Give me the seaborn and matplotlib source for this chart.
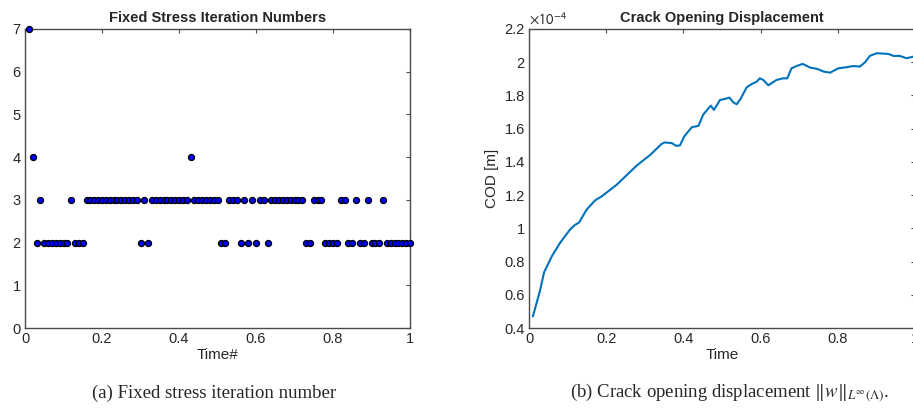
import matplotlib
matplotlib.use("Agg")
import matplotlib.pyplot as plt
import matplotlib.ticker as mticker
import numpy as np
import seaborn as sns

# time steps (0.01 .. 1.00)
time_steps = np.arange(1, 101) / 100.0
# fixed stress iterations per time step
iterations = [7, 4, 2, 3, 2, 2, 2, 2, 2, 2, 2, 3, 2, 2, 2,
              3, 3, 3, 3, 3, 3, 3, 3, 3, 3, 3, 3, 3, 3,
              2, 3, 2, 3, 3, 3, 3, 3, 3, 3, 3, 3, 3, 4,
              3, 3, 3, 3, 3, 3, 3, 2, 2, 3, 3, 3, 2, 3, 2, 3, 2,
              3, 3, 2, 3, 3, 3, 3, 3, 3, 3, 3, 3,
              2, 2, 3, 3, 3, 2, 2, 2, 2, 3, 3, 2, 2, 3, 2, 2, 3,
              2, 2, 2, 3, 2, 2, 2, 2, 2, 2, 2]

# crack opening displacement (x 1e-4 m)
cod_time = [0.01, 0.028, 0.039, 0.059, 0.080, 0.106, 0.119, 0.130, 0.149, 0.171,
            0.188, 0.227, 0.279, 0.314, 0.344, 0.352, 0.370, 0.381, 0.391, 0.402,
            0.422, 0.439, 0.451, 0.460, 0.471, 0.479, 0.495, 0.508, 0.519, 0.530,
            0.538, 0.548, 0.564, 0.577, 0.590, 0.598, 0.607, 0.620, 0.641, 0.658,
            0.669, 0.680, 0.693, 0.709, 0.728, 0.746, 0.763, 0.780, 0.801, 0.823,
            0.840, 0.857, 0.870, 0.883, 0.900, 0.931, 0.944, 0.961, 0.978, 1.0]
cod_value = [0.47, 0.62, 0.735, 0.831, 0.911, 0.992, 1.02, 1.036, 1.112, 1.168,
             1.192, 1.262, 1.378, 1.442, 1.509, 1.517, 1.513, 1.497, 1.499, 1.553,
             1.609, 1.617, 1.683, 1.709, 1.739, 1.713, 1.773, 1.779, 1.787, 1.757,
             1.747, 1.779, 1.849, 1.869, 1.883, 1.903, 1.893, 1.861, 1.893, 1.903,
             1.903, 1.963, 1.977, 1.990, 1.968, 1.960, 1.944, 1.937, 1.963, 1.970,
             1.977, 1.974, 1.998, 2.038, 2.054, 2.050, 2.038, 2.038, 2.024, 2.036]

sns.set_style("white")
plt.rcParams['font.family'] = ['Liberation Sans', 'DejaVu Sans']
plt.rcParams['mathtext.fontset'] = 'stixsans'
label_col = "#262626"

fig = plt.figure(figsize=(9.13, 4.16), dpi=100)
ax1 = fig.add_axes([25/913, 1 - 328/416, 385/913, 299/416])
ax2 = fig.add_axes([529/913, 1 - 328/416, 386/913, 299/416])

def matlab_box(ax):
    for sp in ax.spines.values():
        sp.set_visible(True)
        sp.set_color("#4a4a4a")
        sp.set_linewidth(1.0)
    ax.tick_params(direction="in", length=3, width=0.8, color="#4a4a4a",
                   top=True, right=True, labelsize=10.5, labelcolor=label_col, pad=3)
    ax.xaxis.set_major_formatter(mticker.FormatStrFormatter("%g"))
    ax.yaxis.set_major_formatter(mticker.FormatStrFormatter("%g"))

#### left: iteration numbers
sns.scatterplot(x=time_steps, y=iterations, ax=ax1, color="#0000ff",
                edgecolor="black", linewidth=0.9, s=19, clip_on=False, zorder=3)
ax1.set_xlim(0, 1)
ax1.set_ylim(0, 7)
ax1.set_xticks([0, 0.2, 0.4, 0.6, 0.8, 1])
ax1.set_yticks(range(8))
matlab_box(ax1)
ax1.set_title("Fixed Stress Iteration Numbers", fontsize=10.5, fontweight="bold", pad=5)
ax1.set_xlabel("Time#", fontsize=11, color=label_col, labelpad=1)

#### right: crack opening displacement
sns.lineplot(x=cod_time, y=cod_value, ax=ax2, color="#0072bd", linewidth=1.5)
ax2.set_xlim(0, 1)
ax2.set_ylim(0.4, 2.2)
ax2.set_xticks([0, 0.2, 0.4, 0.6, 0.8, 1])
ax2.set_yticks(np.round(np.arange(0.4, 2.21, 0.2), 1))
matlab_box(ax2)
ax2.set_title("Crack Opening Displacement", fontsize=10.5, fontweight="bold", pad=5)
ax2.set_xlabel("Time", fontsize=11, color=label_col, labelpad=1)
ax2.set_ylabel("COD [m]", fontsize=11, color=label_col, labelpad=4)
ax2.text(0.0, 1.005, r"$\times10^{-4}$", transform=ax2.transAxes, ha="left",
         va="bottom", fontsize=10.5, color=label_col)

#### captions
fig.text(214/913, 1 - 393/416, "(a) Fixed stress iteration number",
         ha="center", va="center", fontsize=13.5, family="Liberation Serif")
fig.text(730/913, 1 - 393/416,
         r"(b) Crack opening displacement $\|w\|_{L^\infty(\Lambda)}$.",
         ha="center", va="center", fontsize=13.5, family="Liberation Serif",
         math_fontfamily="stix")

fig.set_facecolor("w")
plt.savefig("out.png", dpi=100)
